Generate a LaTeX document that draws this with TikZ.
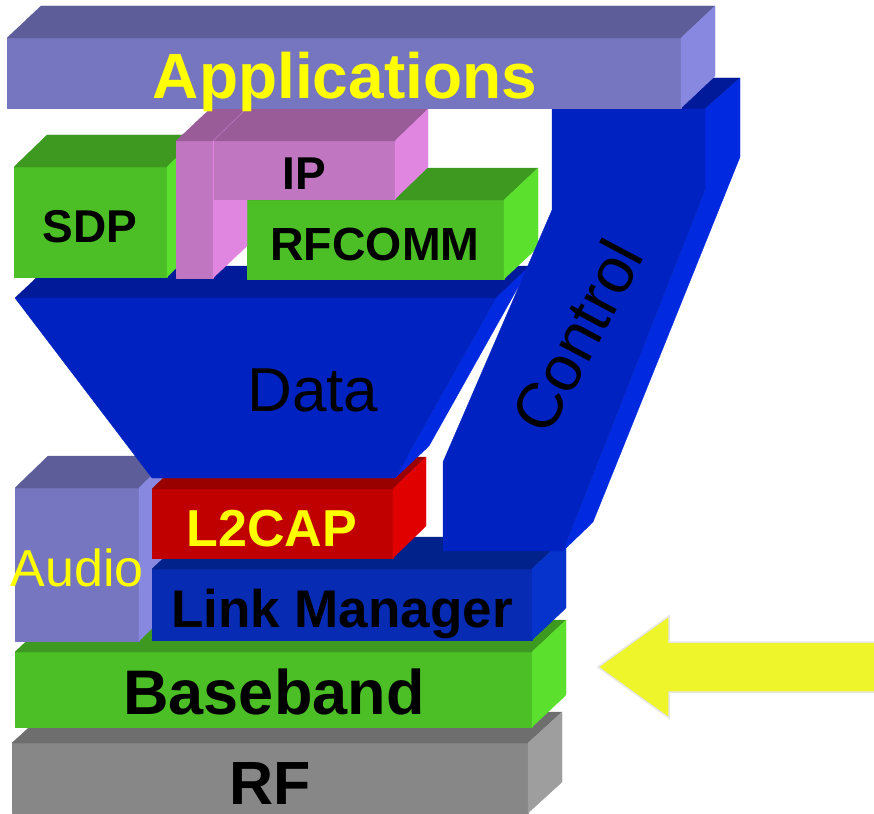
\documentclass[tikz,border=0pt]{standalone}
\usepackage{fontspec}
\setmainfont{Liberation Sans}

% face colours: front / top / side of every layer
\definecolor{appfront}{HTML}{7676C0}
\definecolor{apptop}{HTML}{5D5D99}
\definecolor{appside}{HTML}{8888E0}
\definecolor{grnfront}{HTML}{4CBF26}
\definecolor{grntop}{HTML}{3D9920}
\definecolor{grnside}{HTML}{5CE02E}
\definecolor{pnkfront}{HTML}{C076C0}
\definecolor{pnktop}{HTML}{995C99}
\definecolor{pnkside}{HTML}{E085E0}
\definecolor{blufront}{HTML}{0022C0}
\definecolor{blutop}{HTML}{001A99}
\definecolor{bluside}{HTML}{0029E0}
\definecolor{lmfront}{HTML}{072BB2}
\definecolor{lmtop}{HTML}{00228A}
\definecolor{lmside}{HTML}{0533CC}
\definecolor{redfront}{HTML}{C00000}
\definecolor{redtop}{HTML}{990000}
\definecolor{redside}{HTML}{E00000}
\definecolor{gryfront}{HTML}{878787}
\definecolor{grytop}{HTML}{6E6E6E}
\definecolor{gryside}{HTML}{9E9E9E}
\definecolor{txtyellow}{HTML}{FFFF00}
\definecolor{arrowfill}{HTML}{EEF52A}
\definecolor{arrowedge}{HTML}{E6E6E6}

\tikzset{
  face/.style={fill=#1, draw=#1, line width=0.3pt, line join=round},
  lbl/.style={inner sep=0pt, anchor=base},
  boldlbl/.style={lbl, font=\bfseries\fontsize{#1}{#1}\selectfont},
  plainlbl/.style={lbl, font=\fontsize{#1}{#1}\selectfont},
}

% a box: front rectangle (x1,y1)-(x2,y2), depth (dx,dy), colours front/top/side
\newcommand\layerbox[9]{%
  \filldraw[face=#7] (#1,#2) rectangle (#3,#4);
  \filldraw[face=#8] (#1,#2) -- ++(#5,#6) -- ({#3+#5},{#2+#6}) -- (#3,#2) -- cycle;
  \filldraw[face=#9] (#3,#2) -- ++(#5,#6) -- ({#3+#5},{#4+#6}) -- (#3,#4) -- cycle;
}

\begin{document}
\begin{tikzpicture}[x=1pt, y=-1pt]
\useasboundingbox (0,0) rectangle (874,813);
\fill[white] (0,0) rectangle (874,813);

% lower stack
\layerbox{12}{743}{528}{813}{34}{-31}{gryfront}{grytop}{gryside}
\layerbox{15}{652}{532}{727}{34}{-32}{grnfront}{grntop}{grnside}
\layerbox{15}{488}{139}{641}{33}{-32}{appfront}{apptop}{appside}
\layerbox{152}{569}{532}{640}{34}{-32}{lmfront}{lmtop}{lmside}
\layerbox{152}{489}{393}{558}{33}{-32}{redfront}{redtop}{redside}

% data funnel
\filldraw[face=blutop] (15,298) -- (49,266) -- (530,266) -- (496,298) -- cycle;
\filldraw[face=bluside] (496,298) -- (530,266) -- (429,446) -- (395,478) -- cycle;
\filldraw[face=blufront] (15,298) -- (496,298) -- (395,478) -- (152,478) -- cycle;

% upper protocols
\layerbox{14}{167}{167}{277}{33}{-32}{grnfront}{grntop}{grnside}
\layerbox{247}{200}{504}{279}{34}{-32}{grnfront}{grntop}{grnside}
\layerbox{176}{141}{213}{278}{34}{-32}{pnkfront}{pnktop}{pnkside}
\layerbox{213}{141}{395}{199}{33}{-32}{pnkfront}{pnktop}{pnkside}
\draw[pnkside, line width=0.8pt] (213,141) -- (213,278);
\draw[pnkfront, line width=0.6pt] (213,141) -- (246,109);

% control column
\filldraw[face=blutop] (552,109) -- (586,78) -- (740,78) -- (705,109) -- cycle;
\filldraw[face=bluside] (705,109) -- (740,78) -- (740,157) -- (593,522)
  -- (563,551) -- (705,190) -- cycle;
\filldraw[face=blufront] (552,109) -- (705,109) -- (705,190) -- (563,551)
  -- (443,551) -- (443,462) -- (552,210) -- cycle;

% applications
\layerbox{7}{38}{681}{108}{34}{-32}{appfront}{apptop}{appside}

% labels
\node[boldlbl=64, text=txtyellow] (apps) at (345,99) {Applications};
\node[boldlbl=46] (sdp) at (90,242) {SDP};
\node[boldlbl=46] (ip) at (304,189) {IP};
\node[boldlbl=46.5] (rfcomm) at (375,260) {RFCOMM};
\node[plainlbl=62] (data) at (313,411) {Data};
\node[inner sep=0pt, rotate=62, font=\fontsize{64}{64}\selectfont] (control) at (577,336) {Control};
\node[boldlbl=52, text=txtyellow] (l2cap) at (272,546) {L2CAP};
\node[plainlbl=52, text=txtyellow] (audio) at (77,586) {Audio};
\node[boldlbl=53] (lm) at (342,627) {Link Manager};
\node[boldlbl=63] (bb) at (274,714) {Baseband};
\node[boldlbl=61] (rf) at (270,804) {RF};

% incoming arrow
\filldraw[fill=arrowfill, draw=arrowedge, line width=1.5pt, line join=miter]
  (598,667) -- (669,616) -- (669,642) -- (880,642) -- (880,692)
  -- (669,692) -- (669,718) -- cycle;
\end{tikzpicture}
\end{document}
